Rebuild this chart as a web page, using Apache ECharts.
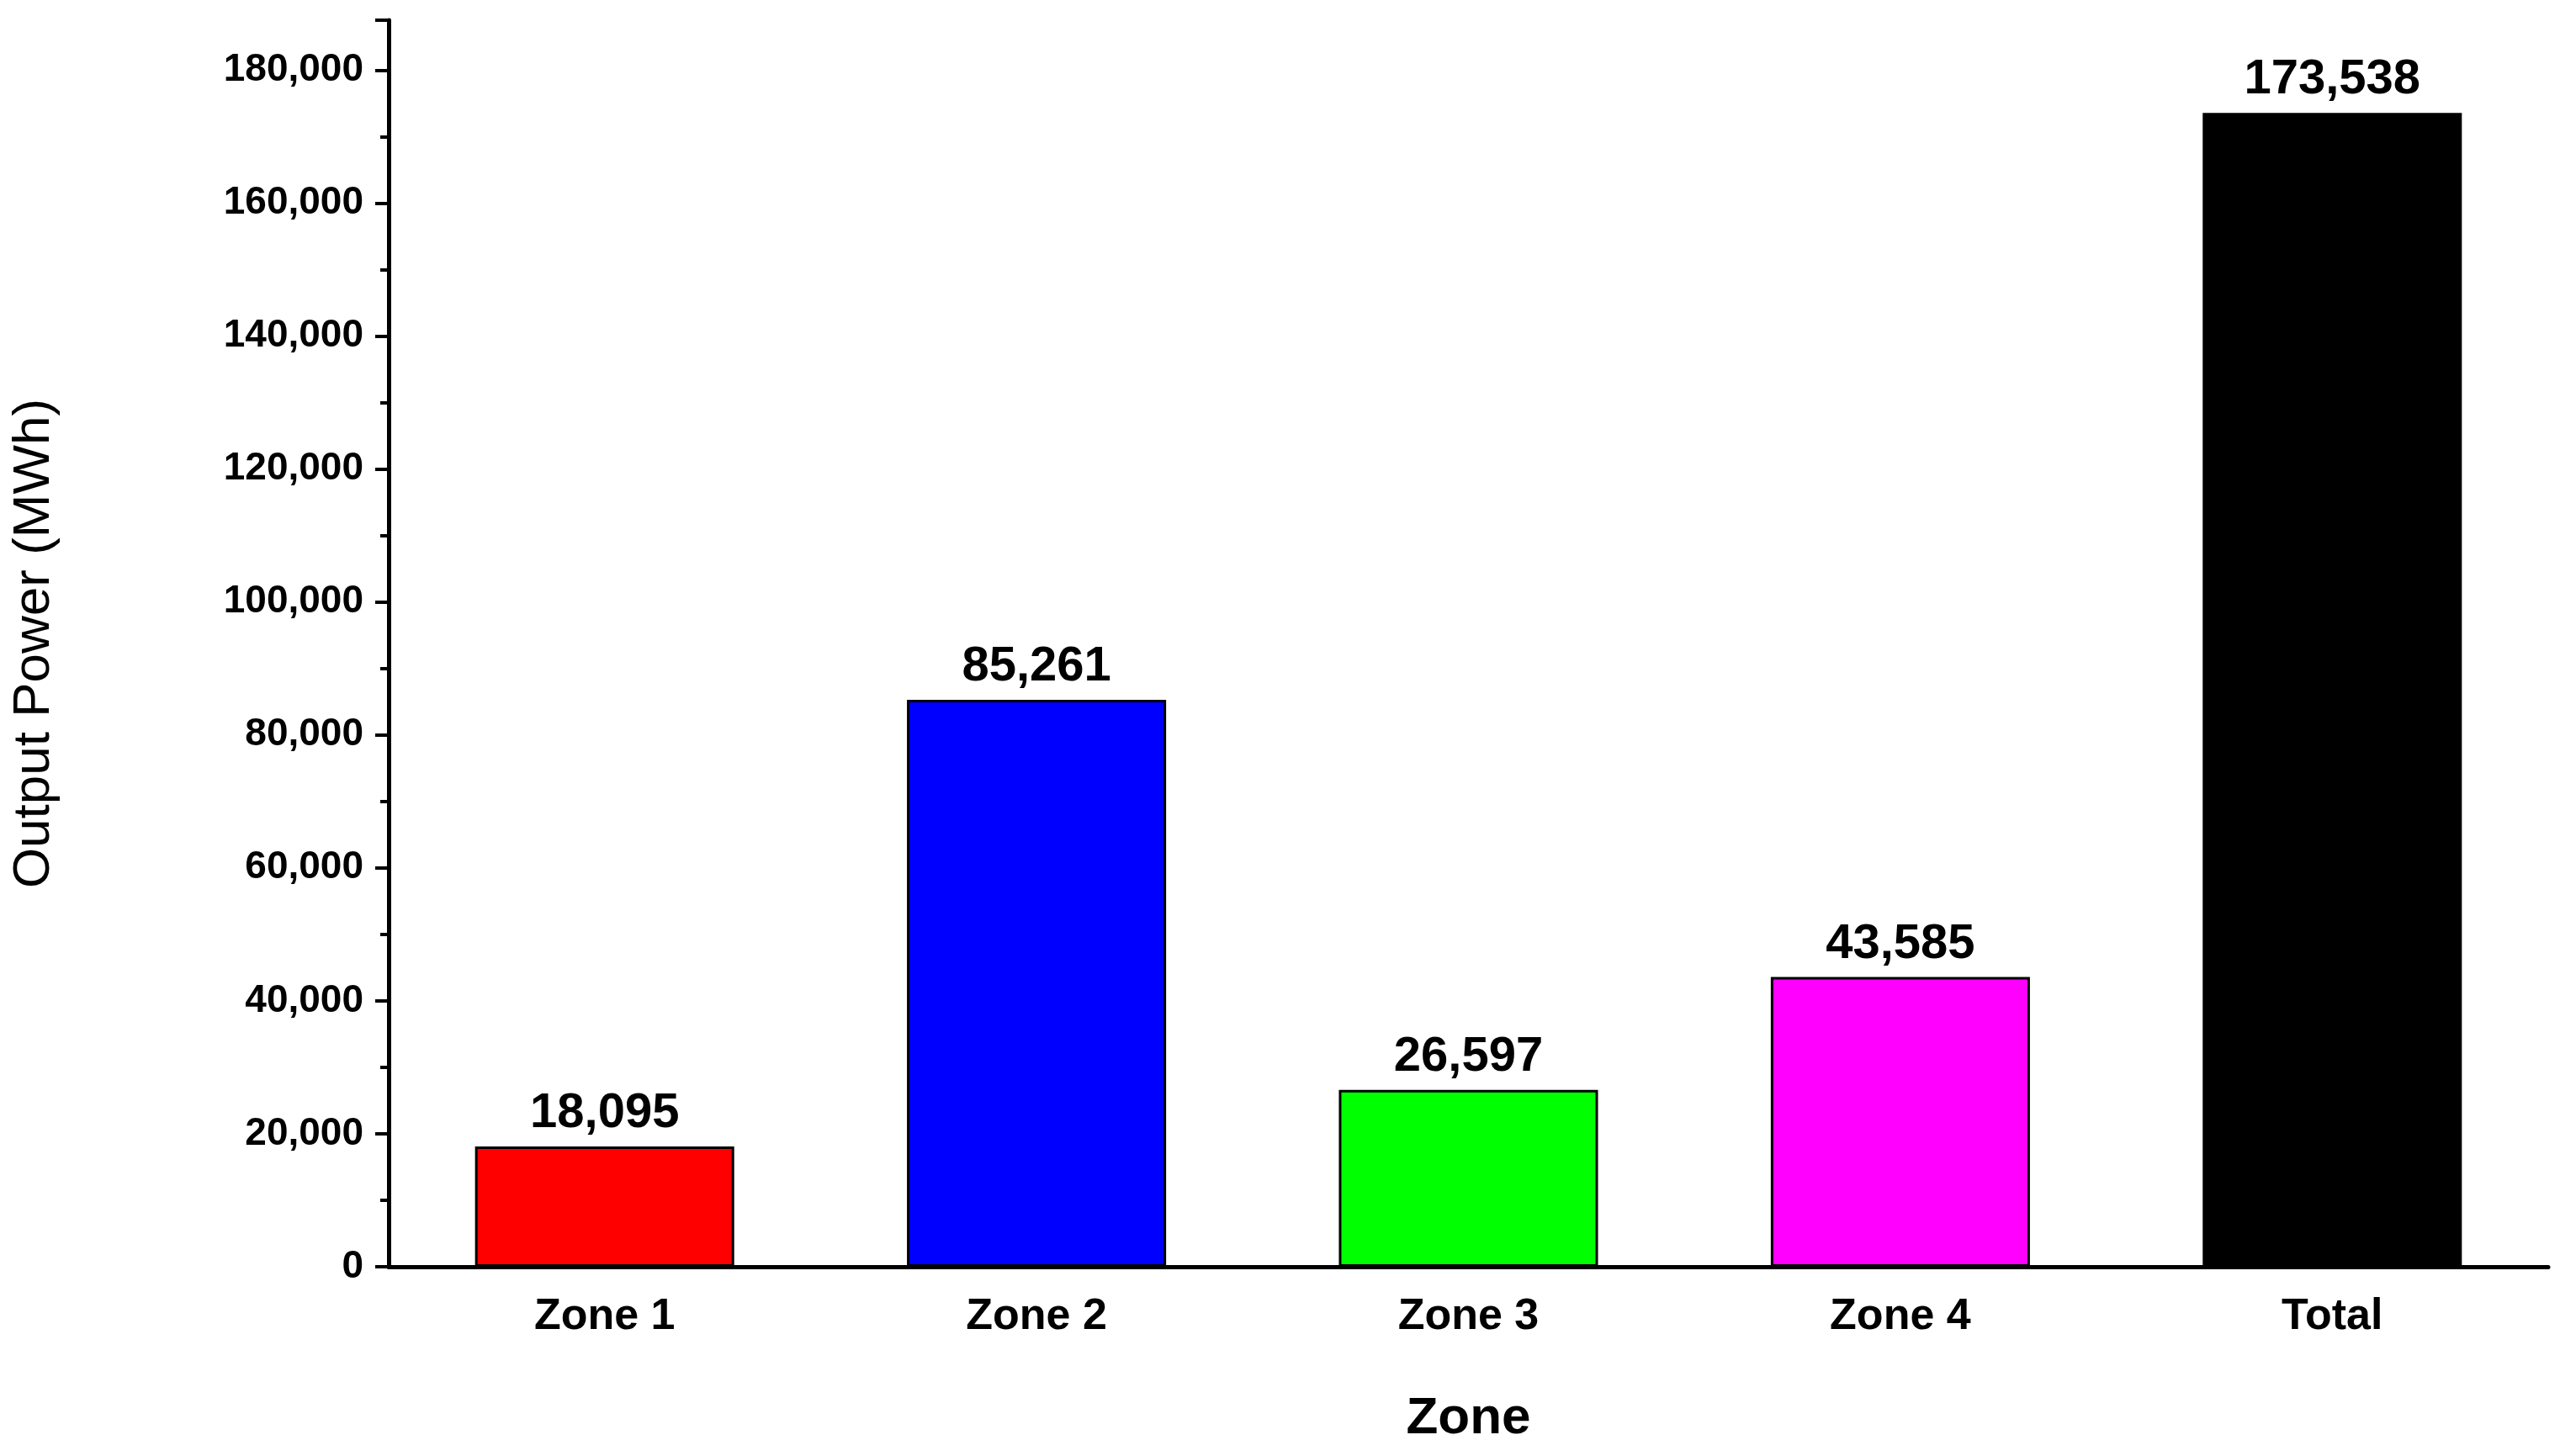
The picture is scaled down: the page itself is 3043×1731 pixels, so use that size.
<!DOCTYPE html>
<html>
<head>
<meta charset="utf-8">
<script src="https://cdn.jsdelivr.net/npm/echarts@6/dist/echarts.min.js"></script>
<style>html,body{margin:0;background:#fff}#main{width:3043px;height:1731px}</style>
</head>
<body>
<div id="main"></div>
<script>
var zones = ['Zone 1', 'Zone 2', 'Zone 3', 'Zone 4', 'Total'];
var output = [18095, 85261, 26597, 43585, 173538];
var barColors = ['#ff0000', '#0000ff', '#00ff00', '#ff00ff', '#000000'];

var font = '"Liberation Sans", Arial, sans-serif';
var myChart = echarts.init(document.getElementById('main'));

var option = {
    animation: false,
    grid: { left: 462, right: 14, top: 24, bottom: 225 },
    xAxis: [{
        type: 'category',
        data: zones,
        name: 'Zone',
        nameLocation: 'middle',
        nameGap: 150,
        nameTextStyle: { fontFamily: font, fontWeight: 'bold', fontSize: 62, color: '#000' },
        axisLine: { lineStyle: { color: '#000', width: 5 } },
        axisTick: { alignWithLabel: true, length: 16, lineStyle: { color: '#000', width: 4 } },
        axisLabel: { fontFamily: font, fontWeight: 'bold', fontSize: 52, color: '#000', margin: 34 }
    }, {
        type: 'category',
        data: zones,
        position: 'bottom',
        axisLine: { show: false },
        axisTick: { length: 10, lineStyle: { color: '#000', width: 4 } },
        axisLabel: { show: false }
    }],
    yAxis: {
        type: 'value',
        min: 0,
        max: 187500,
        interval: 20000,
        name: 'Output Power (MWh)',
        nameLocation: 'middle',
        nameGap: 390,
        nameTextStyle: { fontFamily: font, fontSize: 62, color: '#000' },
        axisLine: { show: true, lineStyle: { color: '#000', width: 5 } },
        axisTick: { show: true, length: 16, lineStyle: { color: '#000', width: 4 } },
        minorTick: { show: true, splitNumber: 2, length: 10, lineStyle: { color: '#000', width: 4 } },
        splitLine: { show: false },
        axisLabel: {
            fontFamily: font, fontWeight: 'bold', fontSize: 46, color: '#000', margin: 30,
            formatter: function (v) { return v % 20000 === 0 ? v.toLocaleString('en-US') : ''; }
        }
    },
    series: [{
        type: 'bar',
        barWidth: '60%',
        data: output.map(function (v, i) {
            return { value: v, itemStyle: { color: barColors[i], borderColor: '#000', borderWidth: 3 } };
        }),
        label: {
            show: true,
            position: 'top',
            distance: 10,
            fontFamily: font,
            fontWeight: 'bold',
            fontSize: 58,
            color: '#000',
            formatter: function (p) { return p.value.toLocaleString('en-US'); }
        }
    }]
};
myChart.setOption(option);
</script>
</body>
</html>
